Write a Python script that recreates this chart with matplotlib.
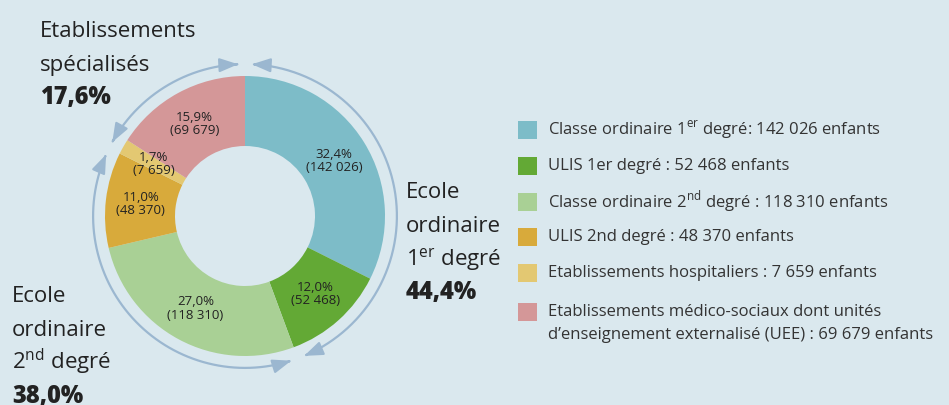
import matplotlib.pyplot as plt
import numpy as np
from matplotlib.patches import FancyArrowPatch, Rectangle
from matplotlib.path import Path

plt.rcParams['font.family'] = ['Open Sans', 'DejaVu Sans']
plt.rcParams['mathtext.fontset'] = 'custom'
plt.rcParams['mathtext.rm'] = 'Open Sans'

# --- données ---
categories = ["Classe ordinaire 1$^{\\mathrm{er}}$ degré:",
              "ULIS 1er degré :",
              "Classe ordinaire 2$^{\\mathrm{nd}}$ degré :",
              "ULIS 2nd degré :",
              "Etablissements hospitaliers :",
              "Etablissements médico-sociaux dont unités\nd’enseignement externalisé (UEE) :"]
counts = [142026, 52468, 118310, 48370, 7659, 69679]
colors = ["#7dbcc8", "#63a935", "#a9d095", "#d8aa3b", "#e3c872", "#d49798"]

groups = ["Ecole\nordinaire\n1$^{\\mathrm{er}}$ degré",
          "Ecole\nordinaire\n2$^{\\mathrm{nd}}$ degré",
          "Etablissements\nspécialisés"]
group_size = [2, 2, 2]
group_pos = [(406, 198), (12, 302), (40, 37)]   # px, baseline 1re ligne

bg = "#dae8ee"
ring_col = "#9bb7d0"
txt_col = "#222222"

W, H = 949, 405
fig = plt.figure(figsize=(W / 100, H / 100), dpi=100, facecolor=bg)
ax = fig.add_axes([0, 0, 1, 1])
ax.set_facecolor(bg)

cx, cy, scale = 245, 216, 140.0   # centre en px, px par unité


def fr_num(n):
    return f"{n:,}".replace(",", " ")


def fr_pct(p):
    return f"{p:.1f}".replace(".", ",") + "%"


total = sum(counts)
wedges, _ = ax.pie(counts, colors=colors, startangle=90, counterclock=False,
                   radius=1, wedgeprops=dict(width=0.5, linewidth=0))

for w, n in zip(wedges, counts):
    a = np.deg2rad((w.theta1 + w.theta2) / 2)
    ax.text(0.75 * np.cos(a), 0.75 * np.sin(a),
            fr_pct(100 * n / total) + "\n(" + fr_num(n) + ")",
            ha="center", va="center", fontsize=9.5, color=txt_col,
            linespacing=1.05)

# anneau de flèches par groupe
R = 1.085
gap = 2.6
cum = np.concatenate([[0], np.cumsum(counts)]) / total
k = 0
for gi, size in enumerate(group_size):
    f0, f1 = cum[k], cum[k + size]
    a0 = 90 - 360 * f0 - gap
    a1 = 90 - 360 * f1 + gap
    th = np.deg2rad(np.linspace(a0, a1, 200))
    verts = np.column_stack([R * np.cos(th), R * np.sin(th)])
    arr = FancyArrowPatch(path=Path(verts), arrowstyle="<|-|>,head_length=0.8,head_width=0.3",
                          mutation_scale=14, color=ring_col, lw=1.6)
    ax.add_patch(arr)

    # libellé du groupe
    gx, gy = group_pos[gi]
    lines = groups[gi].split("\n")
    pitch = 33.5
    for li, line in enumerate(lines):
        fig.text(gx / W, 1 - (gy + li * pitch) / H, line, fontsize=16,
                 color=txt_col, va="baseline", ha="left")
    pct = 100 * sum(counts[k:k + size]) / total
    fig.text(gx / W, 1 - (gy + len(lines) * pitch) / H, fr_pct(pct),
             fontsize=17, fontweight="heavy", color=txt_col,
             va="baseline", ha="left")
    k += size

ax.set_aspect("equal")
ax.set_xlim(-cx / scale, (W - cx) / scale)
ax.set_ylim(-(H - cy) / scale, cy / scale)
ax.axis("off")

# légende
leg_y = [130, 166, 202, 237, 273, 312]
for i, (lab, n, c) in enumerate(zip(categories, counts, colors)):
    y = leg_y[i]
    fig.add_artist(Rectangle((518 / W, 1 - (y + 9) / H), 19 / W, 18 / H,
                             transform=fig.transFigure, color=c, lw=0))
    lab_lines = (lab + " " + fr_num(n) + " enfants").split("\n")
    for li, line in enumerate(lab_lines):
        fig.text(548 / W, 1 - (y + li * 23) / H, line, fontsize=12,
                 color="#333333", va="center", ha="left")

plt.savefig("out.png", dpi=100, facecolor=bg)
